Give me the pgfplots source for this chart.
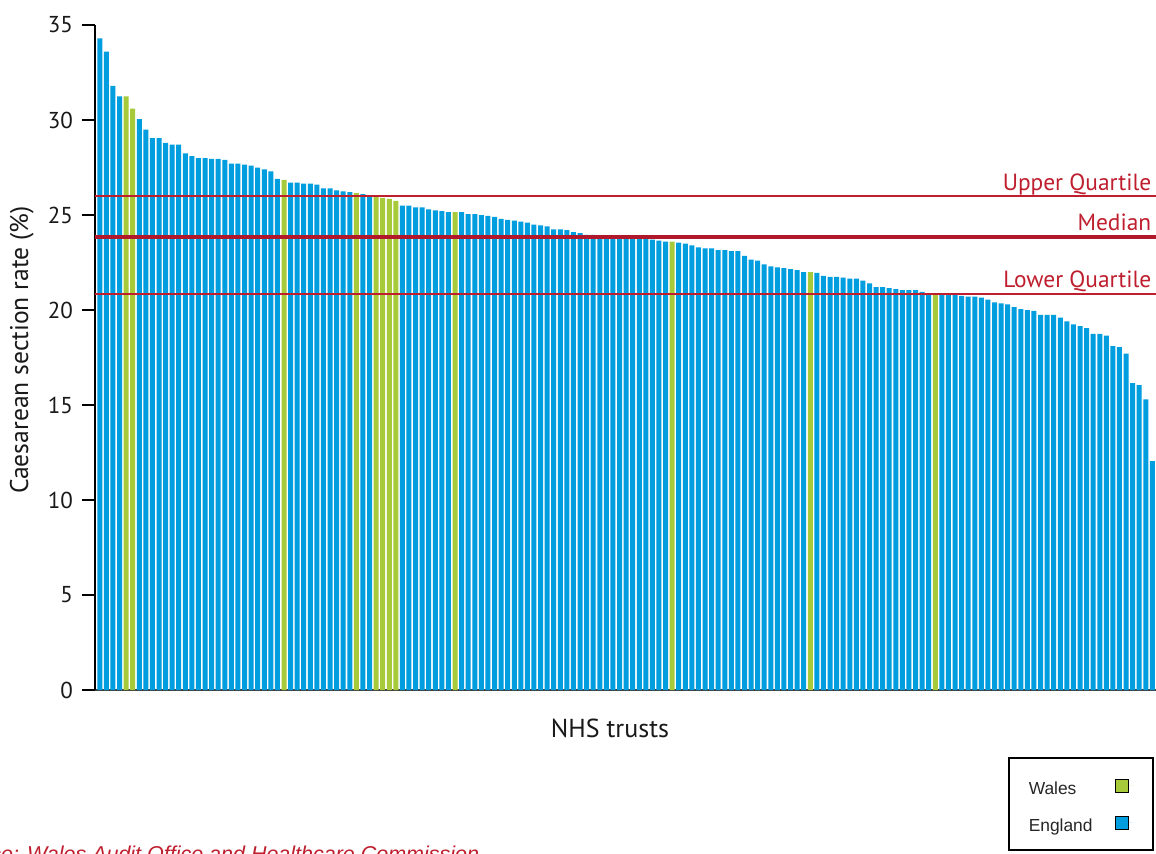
\documentclass[border=0pt]{standalone}
\usepackage{pgfplots}
\pgfplotsset{compat=1.18}
\usepackage{fontspec}
\setmainfont{PT Sans}
\newfontfamily\arial{Liberation Sans}

\definecolor{engblue}{RGB}{0,157,223}
\definecolor{walgreen}{RGB}{166,202,57}
\definecolor{qred}{RGB}{190,30,45}
\definecolor{medred}{RGB}{178,24,43}

\begin{document}
\begin{tikzpicture}
	% page = 1156x853 px at 0.5pt per px, axis box lower left at px (95,690)
	\useasboundingbox (-47.5pt,-81.5pt) rectangle (530.5pt,345pt);
	\begin{axis}[
		at={(0,0)}, anchor=south west,
		scale only axis,
		width=530.5pt, height=332.5pt,
		xmin=0.27, xmax=161.55,
		ymin=0, ymax=35,
		clip=false,
		axis x line*=bottom,
		axis y line*=left,
		x axis line style={draw=black!75, line width=0.8pt},
		y axis line style={draw=black, line width=0.8pt},
		xtick=\empty,
		ytick={0,5,...,35},
		tick align=outside,
		major tick length=6.5pt,
		ytick style={black, line width=0.8pt},
		/pgf/number format/assume math mode=true,
		yticklabel style={font=\fontsize{11.5}{13}\selectfont, text=black!90, xshift=-1pt},
		ylabel={Caesarean section rate (\%)},
		ylabel style={at={(axis description cs:-0.0631,0.511)}, anchor=base,
			font=\fontsize{12.8}{15}\selectfont, text=black!90},
		xlabel={NHS trusts},
		xlabel style={at={(axis description cs:0.4854,-0.0707)}, anchor=base,
			font=\fontsize{13}{15}\selectfont, text=black!90},
		legend plot pos=right,
		legend cell align=left,
		legend style={
			at={(axis description cs:0.8605,-0.1008)}, anchor=north west,
			draw=black, line width=0.75pt, fill=white,
			inner xsep=10pt, inner ysep=8.6pt,
			row sep=8pt, column sep=0pt,
			nodes={inner sep=0pt, text height=10pt, text depth=0.5pt,
				font=\arial\fontsize{8.7}{10}\selectfont, text=black!85},
		},
		legend image code/.code={
			\path (0pt,0pt) -- (9pt,0pt);
			\draw[#1, draw=black, line width=0.4pt] (0pt,-3.25pt) rectangle (6.5pt,3.25pt);
		},
	]

	\addplot[ybar, bar width=2.5pt, bar shift=0pt, fill=walgreen, draw=none]
	coordinates {
		(5,31.25) (6,30.6) (29,26.85) (40,26.15) (43,25.95) (44,25.9)
		(45,25.85) (46,25.75) (55,25.15) (88,23.6) (109,22.0) (128,20.85)
	};
	\addlegendentry{\makebox[43pt][l]{Wales}}

	\addplot[ybar, bar width=2.5pt, bar shift=0pt, fill=engblue, draw=none]
	coordinates {
		(1,34.3) (2,33.6) (3,31.8) (4,31.25) (7,30.05) (8,29.5) (9,29.05)
		(10,29.05) (11,28.8) (12,28.7) (13,28.7) (14,28.25) (15,28.1) (16,28.0)
		(17,28.0) (18,27.95) (19,27.95) (20,27.9) (21,27.7) (22,27.7) (23,27.65)
		(24,27.6) (25,27.5) (26,27.4) (27,27.3) (28,26.9) (30,26.7) (31,26.7)
		(32,26.65) (33,26.65) (34,26.6) (35,26.4) (36,26.4) (37,26.3) (38,26.25)
		(39,26.2) (41,26.1) (42,26.05) (47,25.5) (48,25.5) (49,25.4) (50,25.4)
		(51,25.3) (52,25.25) (53,25.2) (54,25.15) (56,25.15) (57,25.05) (58,25.05)
		(59,25.0) (60,24.95) (61,24.9) (62,24.8) (63,24.75) (64,24.7) (65,24.65)
		(66,24.6) (67,24.5) (68,24.45) (69,24.4) (70,24.25) (71,24.25) (72,24.2)
		(73,24.1) (74,24.05) (75,23.95) (76,23.95) (77,23.9) (78,23.9) (79,23.85)
		(80,23.85) (81,23.85) (82,23.8) (83,23.8) (84,23.75) (85,23.7) (86,23.65)
		(87,23.6) (89,23.55) (90,23.5) (91,23.4) (92,23.3) (93,23.25) (94,23.25)
		(95,23.15) (96,23.15) (97,23.1) (98,23.1) (99,22.85) (100,22.65) (101,22.6)
		(102,22.4) (103,22.3) (104,22.25) (105,22.2) (106,22.15) (107,22.1) (108,22.0)
		(110,21.95) (111,21.8) (112,21.75) (113,21.75) (114,21.7) (115,21.65) (116,21.65)
		(117,21.55) (118,21.4) (119,21.2) (120,21.2) (121,21.15) (122,21.1) (123,21.05)
		(124,21.05) (125,21.05) (126,20.95) (127,20.85) (129,20.8) (130,20.8) (131,20.8)
		(132,20.75) (133,20.7) (134,20.7) (135,20.65) (136,20.55) (137,20.4) (138,20.35)
		(139,20.3) (140,20.15) (141,20.05) (142,20.0) (143,19.95) (144,19.75) (145,19.75)
		(146,19.75) (147,19.6) (148,19.4) (149,19.25) (150,19.15) (151,19.05) (152,18.75)
		(153,18.75) (154,18.65) (155,18.1) (156,18.05) (157,17.7) (158,16.15) (159,16.05)
		(160,15.3) (161,12.05)
	};
	\addlegendentry{\makebox[43pt][l]{England}}

	% quartiles and median
	\addplot[forget plot, draw=qred, line width=1pt] coordinates {(0.27,26.0) (161.55,26.0)};
	\addplot[forget plot, draw=medred, line width=2pt] coordinates {(0.27,23.83) (161.55,23.83)};
	\addplot[forget plot, draw=qred, line width=1pt] coordinates {(0.27,20.85) (161.55,20.85)};

	\node[anchor=base east, text=qred, font=\fontsize{11.7}{14}\selectfont, yshift=3pt]
		at (axis cs:161.9,26.0) {Upper Quartile};
	\node[anchor=base east, text=qred, font=\fontsize{11.7}{14}\selectfont, yshift=3.5pt]
		at (axis cs:161.9,23.83) {Median};
	\node[anchor=base east, text=qred, font=\fontsize{11.7}{14}\selectfont, yshift=3pt]
		at (axis cs:161.9,20.85) {Lower Quartile};

	\node[anchor=base west, text=qred, font=\arial\itshape\fontsize{10.74}{12}\selectfont]
		at (axis description cs:-0.148,-0.2586) {Source: Wales Audit Office and Healthcare Commission};
	\end{axis}
\end{tikzpicture}
\end{document}
